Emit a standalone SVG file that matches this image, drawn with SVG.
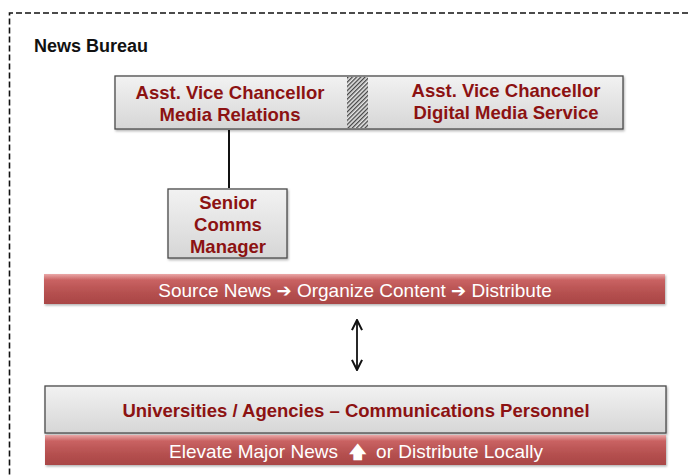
<svg xmlns="http://www.w3.org/2000/svg" width="688" height="475" viewBox="0 0 688 475">
<defs>
<linearGradient id="gray" x1="0" y1="0" x2="0" y2="1">
<stop offset="0" stop-color="#f2f2f2"/>
<stop offset="1" stop-color="#d6d6d6"/>
</linearGradient>
<linearGradient id="red" x1="0" y1="0" x2="0" y2="1">
<stop offset="0" stop-color="#eaa8a8"/>
<stop offset="0.2" stop-color="#c96262"/>
<stop offset="0.6" stop-color="#b65150"/>
<stop offset="1" stop-color="#a94646"/>
</linearGradient>
<pattern id="hatch" width="3" height="3" patternUnits="userSpaceOnUse" patternTransform="rotate(45)">
<rect width="3" height="3" fill="#e6e6e6"/>
<rect width="1.3" height="3" fill="#444"/>
</pattern>
<marker id="ah" viewBox="0 0 10 10" refX="9" refY="5" markerWidth="7" markerHeight="7" orient="auto-start-reverse">
<path d="M1,1 L9,5 L1,9" fill="none" stroke="#111" stroke-width="1.6"/>
</marker>
<filter id="sh" x="-5%" y="-10%" width="110%" height="130%">
<feDropShadow dx="1" dy="1.5" stdDeviation="1.2" flood-color="#000" flood-opacity="0.3"/>
</filter>
</defs>
<style>
.box{fill:url(#gray);stroke:#4a4a4a;stroke-width:1.3}
.bar{fill:url(#red)}
.dk{font-family:"Liberation Sans",Arial,sans-serif;font-weight:bold;font-size:18.5px;fill:#8c1212;text-anchor:middle}
.wt{font-family:"Liberation Sans",Arial,sans-serif;font-size:19px;fill:#ffffff;text-anchor:middle}
.sym{font-family:"DejaVu Sans",sans-serif;font-weight:bold}
</style>
<rect width="688" height="475" fill="#ffffff"/>
<g id="frame">
<path d="M688,13 H9.5 V475" fill="none" stroke="#111" stroke-width="1.6" stroke-dasharray="6,3"/>
<text x="34" y="52" font-family="Liberation Sans,Arial,sans-serif" font-weight="bold" font-size="18" fill="#111">News Bureau</text>
</g>
<g id="connectors">
<line x1="229" y1="130" x2="229" y2="188" stroke="#111" stroke-width="2"/>
<line x1="357" y1="320" x2="357" y2="370" stroke="#111" stroke-width="1.8" marker-start="url(#ah)" marker-end="url(#ah)"/>
</g>
<g id="avc">
<rect class="box" x="115" y="76" width="508" height="53" filter="url(#sh)"/>
<rect x="347" y="77" width="21" height="51" fill="url(#hatch)"/>
<text class="dk" x="230" y="99">Asst. Vice Chancellor</text>
<text class="dk" x="230" y="121">Media Relations</text>
<text class="dk" x="506" y="97">Asst. Vice Chancellor</text>
<text class="dk" x="506" y="119">Digital Media Service</text>
</g>
<g id="senior">
<rect class="box" x="168" y="189" width="119" height="69" filter="url(#sh)"/>
<text class="dk" x="228" y="209">Senior</text>
<text class="dk" x="228" y="231">Comms</text>
<text class="dk" x="228" y="253">Manager</text>
</g>
<g id="process">
<rect class="bar" x="44" y="274" width="621" height="30" filter="url(#sh)"/>
<text class="wt" x="355" y="297">Source News <tspan class="sym" font-size="18">➔</tspan> Organize Content <tspan class="sym" font-size="18">➔</tspan> Distribute</text>
</g>
<g id="universities">
<rect class="box" x="45" y="386" width="621" height="47" filter="url(#sh)"/>
<text class="dk" x="356" y="417">Universities / Agencies – Communications Personnel</text>
</g>
<g id="elevate">
<rect class="bar" x="45" y="435" width="621" height="30" filter="url(#sh)"/>
<text class="wt" x="356" y="458" xml:space="preserve">Elevate Major News  <tspan class="sym" font-size="17">🡅</tspan>  or Distribute Locally</text>
</g>
</svg>
